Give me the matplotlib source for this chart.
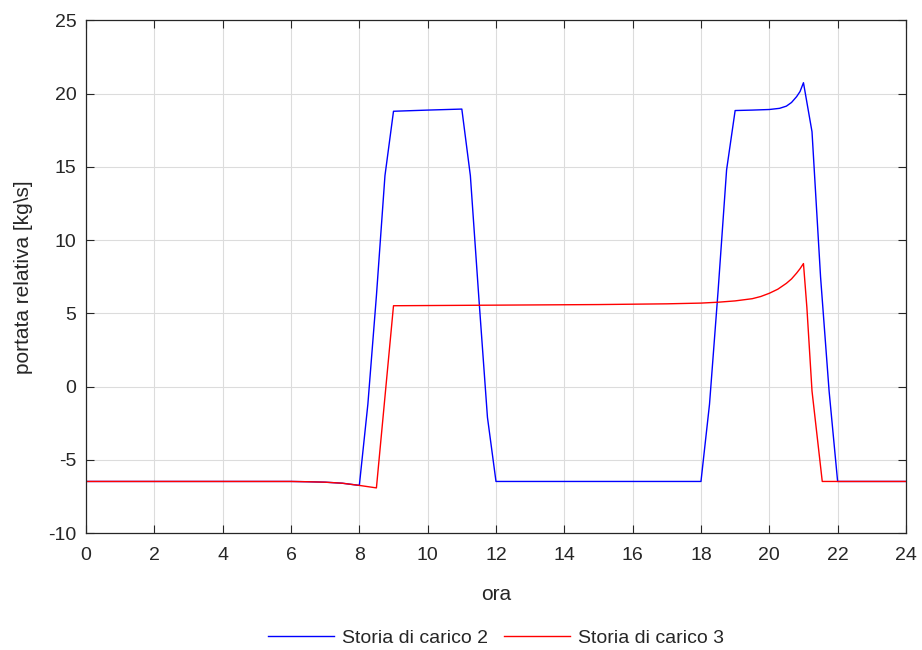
import matplotlib
matplotlib.use("Agg")
import matplotlib.pyplot as plt

plt.rcParams['font.family'] = ['Liberation Sans', 'DejaVu Sans']
plt.rcParams['axes.unicode_minus'] = False

# Load history 2 (hour, relative flow)
ore_2 = [0, 6.0, 6.5, 7.0, 7.5, 8.0, 8.25, 8.5, 8.75, 9.0, 10.0, 11.0, 11.25, 11.5, 11.75,
         12.0, 18.0, 18.25, 18.5, 18.75, 19.0, 19.5, 20.0, 20.3, 20.5, 20.65, 20.8, 20.9,
         21.0, 21.25, 21.5, 21.75, 22.0, 24.0]
portata_2 = [-6.48, -6.48, -6.50, -6.53, -6.60, -6.75, -1.2, 6.2, 14.4, 18.8, 18.88, 18.95,
             14.4, 6.0, -2.1, -6.48, -6.48, -1.2, 6.5, 14.8, 18.85, 18.88, 18.92, 19.0, 19.15,
             19.4, 19.8, 20.15, 20.75, 17.4, 7.5, -0.3, -6.48, -6.48]

# Load history 3 (hour, relative flow)
ore_3 = [0, 6.0, 6.5, 7.0, 7.5, 8.0, 8.5, 9.0, 12.0, 15.0, 17.0, 18.0, 18.5, 19.0, 19.5,
         19.75, 20.0, 20.25, 20.5, 20.65, 20.8, 20.9, 21.0, 21.1, 21.25, 21.55, 24.0]
portata_3 = [-6.48, -6.48, -6.50, -6.53, -6.60, -6.75, -6.92, 5.52, 5.56, 5.6, 5.65, 5.7,
             5.76, 5.85, 6.0, 6.15, 6.37, 6.65, 7.05, 7.35, 7.75, 8.05, 8.4, 5.4, -0.3,
             -6.48, -6.48]

fig = plt.figure(figsize=(9.22, 6.5), dpi=100)
ax = fig.add_axes([0.0933, 0.18, 0.8893, 0.7885])

ax.plot(ore_2, portata_2, color='#0000ff', lw=1.0, label='Storia di carico 2')
ax.plot(ore_3, portata_3, color='#ff0000', lw=1.0, label='Storia di carico 3')

ax.set_xlim(0, 24)
ax.set_ylim(-10, 25)
ax.set_xticks(range(0, 25, 2))
ax.set_yticks(range(-10, 26, 5))
ax.grid(True, color='#dcdcdc', lw=0.8)
ax.set_axisbelow(True)

for s in ax.spines.values():
    s.set_color('#262626')
    s.set_linewidth(0.9)
ax.tick_params(direction='in', length=6, width=0.8, color='#262626',
               top=True, right=True, labelsize=14, labelcolor='#262626')
ax.tick_params(axis='x', pad=10)
ax.tick_params(axis='y', pad=7)

ax.set_xlabel('ora', fontsize=15, color='#262626', labelpad=15)
ax.set_ylabel('portata relativa [kg\\s]', fontsize=15, color='#262626', labelpad=11)

leg = fig.legend(loc='lower center', bbox_to_anchor=(0.538, -0.022), ncol=2, frameon=False,
                 fontsize=14, handlelength=3.4, columnspacing=0.8, handletextpad=0.4)
for t in leg.get_texts():
    t.set_color('#262626')

fig.savefig('out.png', dpi=100, facecolor='white')
